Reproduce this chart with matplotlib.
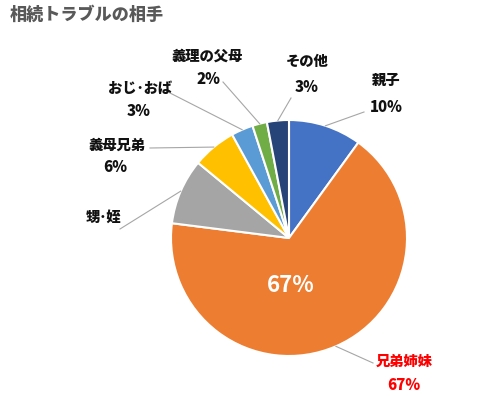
import matplotlib.pyplot as plt
import numpy as np

plt.rcParams['font.family'] = ['Noto Sans CJK JP', 'DejaVu Sans']

# data
categories = ["親子", "兄弟姉妹", "甥･姪", "義母兄弟", "おじ･おば", "義理の父母", "その他"]
values = [10, 67, 9, 6, 3, 2, 3]
show_pct = [True, True, False, True, True, True, True]
colors = ["#4472C4", "#ED7D31", "#A5A5A5", "#FFC000", "#5B9BD5", "#70AD47", "#264478"]

# layout (pixel positions of label centres / leader ends in the 484x396 image)
CX, CY, R = 289, 238, 118
name_pos = [(386, 81), (404, 362), (104, 218), (117, 146), (140, 89), (207, 57), (307, 62)]
pct_pos = [(386, 107), (404, 386), None, (115, 168), (139, 112), (208, 79), (307, 87)]
leader_end = [(364, 112), (373, 363), (120, 229), (150, 148), (170, 93), (223, 82), (291, 98)]


def px(p):
    return ((p[0] - CX) / R, (CY - p[1]) / R)


fig = plt.figure(figsize=(4.84, 3.96), dpi=100)
ax = fig.add_axes([0, 0, 1, 1])

wedges, _ = ax.pie(values, colors=colors, startangle=90, counterclock=False,
                   radius=1, wedgeprops=dict(edgecolor="white", linewidth=1.5))
ax.set_xlim(-CX / R, (484 - CX) / R)
ax.set_ylim((CY - 396) / R, CY / R)
ax.set_aspect("equal")
ax.axis("off")

total = sum(values)
for i, w in enumerate(wedges):
    mid = np.deg2rad((w.theta1 + w.theta2) / 2)
    edge = (np.cos(mid), np.sin(mid))
    end = px(leader_end[i])
    ax.plot([edge[0], end[0]], [edge[1], end[1]], color="#A6A6A6", lw=0.8)
    col = "#FF0000" if categories[i] == "兄弟姉妹" else "#111111"
    x, y = px(name_pos[i])
    ax.text(x, y, categories[i], ha="center", va="center", fontsize=10.3,
            fontweight="heavy", color=col)
    if show_pct[i] and pct_pos[i] is not None:
        x, y = px(pct_pos[i])
        ax.text(x, y, f"{round(values[i] / total * 100)}%", ha="center", va="center",
                fontsize=10.8, fontweight="heavy", color=col)

# big label inside the largest slice
x, y = px((291, 285))
ax.text(x, y, f"{values[1]}%", ha="center", va="center", fontsize=16,
        fontweight="bold", color="white")

fig.text(10 / 484, 1 - 15 / 396, "相続トラブルの相手", ha="left", va="center",
         fontsize=12.3, fontweight="heavy", color="#595959")

fig.savefig("out.png", dpi=100)
